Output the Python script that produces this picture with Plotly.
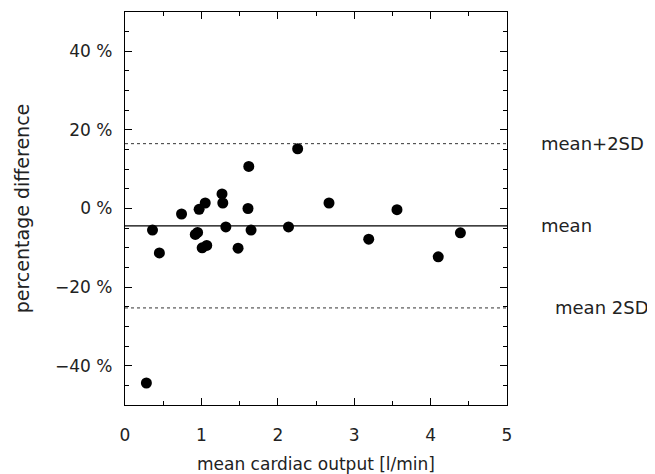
"""Bland-Altman style plot: percentage difference vs mean cardiac output."""

import plotly.graph_objects as go

mean_co = [0.36, 0.45, 0.74, 0.97, 1.05, 0.92, 0.95, 1.01, 1.07, 1.27,
           1.28, 1.32, 1.48, 1.61, 1.62, 1.65, 2.14, 2.26, 2.67, 3.19,
           3.56, 4.10, 4.39, 0.28]
pct_diff = [-5.5, -11.3, -1.4, -0.2, 1.4, -6.6, -6.1, -10.0, -9.4, 3.7,
            1.4, -4.7, -10.1, 0.0, 10.7, -5.5, -4.7, 15.2, 1.4, -7.8,
            -0.3, -12.3, -6.2, -44.4]

mean_line = -4.4
upper_line = 16.5
lower_line = -25.3
line_labels = ["mean+2SD", "mean", "mean 2SD"]

x_ticks = [0, 1, 2, 3, 4, 5]
y_ticks = [-40, -20, 0, 20, 40]
y_tick_text = ["\u221240 %", "\u221220 %", "0 %", "20 %", "40 %"]

FONT = "DejaVu Sans"
INK = "#222222"

fig = go.Figure()

fig.add_trace(
    go.Scatter(
        x=mean_co,
        y=pct_diff,
        mode="markers",
        marker=dict(color="black", size=11),
        showlegend=False,
    )
)

fig.add_hline(y=mean_line, line=dict(color="black", width=1.2))
fig.add_hline(y=upper_line, line=dict(color="#333333", width=1, dash="dot"))
fig.add_hline(y=lower_line, line=dict(color="#333333", width=1, dash="dot"))

for yv, text, xs in zip([upper_line, mean_line, lower_line], line_labels,
                        [1.084, 1.084, 1.12]):
    fig.add_annotation(
        x=xs, y=yv, xref="paper", yref="y", text=text, showarrow=False,
        xanchor="left", font=dict(family=FONT, size=18, color=INK),
    )

axis_common = dict(
    showgrid=False,
    zeroline=False,
    showline=True,
    linecolor="black",
    linewidth=1.2,
    mirror="allticks",
    ticks="inside",
    ticklen=7,
    tickcolor="black",
    tickfont=dict(family=FONT, size=17, color=INK),
)

fig.update_xaxes(
    range=[0, 5],
    tickvals=x_ticks,
    ticklabelstandoff=14,
    minor=dict(dtick=0.5, ticks="inside", ticklen=4, tickcolor="black"),
    title=dict(text="mean cardiac output [l/min]", standoff=14,
               font=dict(family=FONT, size=17, color=INK)),
    **axis_common,
)
fig.update_yaxes(
    range=[-50, 50],
    tickvals=y_ticks,
    ticktext=y_tick_text,
    ticklabelstandoff=8,
    minor=dict(dtick=5, ticks="inside", ticklen=4, tickcolor="black"),
    title=dict(text="percentage difference", standoff=20,
               font=dict(family=FONT, size=19, color=INK)),
    **axis_common,
)

fig.update_layout(
    width=655,
    height=474,
    plot_bgcolor="white",
    paper_bgcolor="white",
    margin=dict(l=117, r=156, t=4, b=77),
)

fig.write_html("out.html")
